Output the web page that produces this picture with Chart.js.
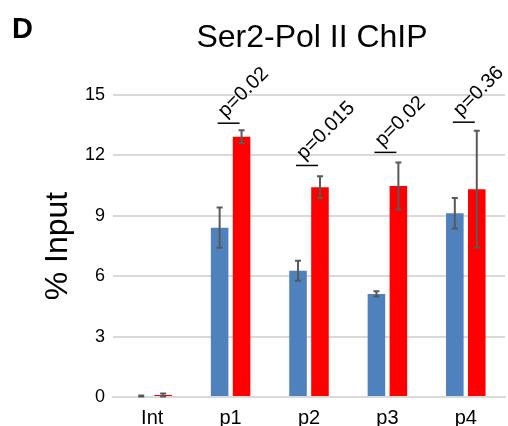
<!DOCTYPE html>
<html>
<head>
<meta charset="utf-8">
<script src="https://cdn.jsdelivr.net/npm/chart.js@4.4.1/dist/chart.umd.min.js"></script>
<style>
  html, body { margin: 0; padding: 0; background: #fff; }
  #wrap { width: 508px; height: 426px; position: relative; }
</style>
</head>
<body>
<div id="wrap"><canvas id="chipChart"></canvas></div>
<script>
// Chart data
const categories = ['Int', 'p1', 'p2', 'p3', 'p4'];
const controlValues = [0.05, 8.41, 6.27, 5.12, 9.13];
const controlErrors = [0.02, 1.0, 0.5, 0.13, 0.76];
const treatedValues = [0.1, 12.93, 10.42, 10.48, 10.32];
const treatedErrors = [0.07, 0.32, 0.55, 1.17, 2.9];
const pValues = [null, 'p=0.02', 'p=0.015', 'p=0.02', 'p=0.36'];
const bracketLevels = [null, 13.6, 11.5, 12.15, 13.65];
const yTicks = [0, 3, 6, 9, 12, 15];

const FONT = "'Liberation Sans', Arial, sans-serif";

// Error bars drawn from the bar elements and the y scale
const errorBarPlugin = {
    id: 'errorBars',
    afterDatasetsDraw: function(chart) {
        const ctx = chart.ctx;
        const yScale = chart.scales.y;
        const errors = [controlErrors, treatedErrors];
        ctx.save();
        ctx.strokeStyle = '#595959';
        ctx.lineWidth = 2;
        chart.data.datasets.forEach(function(ds, di) {
            const meta = chart.getDatasetMeta(di);
            meta.data.forEach(function(bar, i) {
                const v = ds.data[i];
                const e = errors[di][i];
                const yTop = yScale.getPixelForValue(v + e);
                const yBot = yScale.getPixelForValue(Math.max(v - e, 0));
                ctx.beginPath();
                ctx.moveTo(bar.x, yTop);
                ctx.lineTo(bar.x, yBot);
                ctx.moveTo(bar.x - 3, yTop);
                ctx.lineTo(bar.x + 3, yTop);
                ctx.moveTo(bar.x - 3, yBot);
                ctx.lineTo(bar.x + 3, yBot);
                ctx.stroke();
            });
        });
        ctx.restore();
    }
};

// p-value brackets and rotated labels
const pValuePlugin = {
    id: 'pValues',
    afterDatasetsDraw: function(chart) {
        const ctx = chart.ctx;
        const yScale = chart.scales.y;
        const blueMeta = chart.getDatasetMeta(0);
        const redMeta = chart.getDatasetMeta(1);
        ctx.save();
        pValues.forEach(function(label, i) {
            if (!label) return;
            const x1 = blueMeta.data[i].x - 2;
            const x2 = redMeta.data[i].x - 2;
            const y = yScale.getPixelForValue(bracketLevels[i]);
            ctx.strokeStyle = '#000';
            ctx.lineWidth = 1.5;
            ctx.beginPath();
            ctx.moveTo(x1, y);
            ctx.lineTo(x2, y);
            ctx.stroke();

            ctx.save();
            ctx.translate(x1 + 8, y - 5);
            ctx.rotate(-Math.PI / 4);
            ctx.fillStyle = '#000';
            ctx.font = '20px ' + FONT;
            ctx.textAlign = 'left';
            ctx.textBaseline = 'alphabetic';
            ctx.fillText(label, 0, 0);
            ctx.restore();
        });
        ctx.restore();
    }
};

// Panel letter and title
const headerPlugin = {
    id: 'header',
    afterDraw: function(chart) {
        const ctx = chart.ctx;
        ctx.save();
        ctx.fillStyle = '#000';
        ctx.textBaseline = 'alphabetic';
        ctx.font = 'bold 29px ' + FONT;
        ctx.textAlign = 'left';
        ctx.fillText('D', 12, 38);
        ctx.font = '32px ' + FONT;
        ctx.textAlign = 'center';
        ctx.fillText('Ser2-Pol II ChIP', 312, 47);
        ctx.restore();
    }
};

const ctx = document.getElementById('chipChart');
new Chart(ctx, {
    type: 'bar',
    data: {
        labels: categories,
        datasets: [{
            label: 'Control',
            data: controlValues,
            backgroundColor: '#4F81BD',
            borderWidth: 0
        }, {
            label: 'Treated',
            data: treatedValues,
            backgroundColor: '#FF0000',
            borderWidth: 0
        }]
    },
    options: {
        responsive: true,
        maintainAspectRatio: false,
        animation: false,
        datasets: {
            bar: {
                categoryPercentage: 0.56,
                barPercentage: 0.8
            }
        },
        layout: {
            padding: { top: 95, right: 3, left: 0, bottom: 0 }
        },
        plugins: {
            legend: { display: false },
            tooltip: { enabled: false },
            title: { display: false }
        },
        scales: {
            x: {
                grid: { display: false, drawTicks: false },
                border: { display: true, color: '#d9d9d9', width: 2 },
                ticks: {
                    color: '#000',
                    padding: 9,
                    font: { family: FONT, size: 20 }
                },
                afterFit: function(scale) {
                    scale.height = 29;
                }
            },
            y: {
                min: 0,
                max: 15,
                afterBuildTicks: function(scale) {
                    scale.ticks = yTicks.map(function(v) { return { value: v }; });
                },
                grid: { color: '#d9d9d9', lineWidth: 2, drawTicks: false },
                border: { display: false },
                ticks: {
                    color: '#000',
                    padding: 8,
                    font: { family: FONT, size: 18 }
                },
                title: {
                    display: true,
                    text: '% Input',
                    color: '#000',
                    padding: { top: 39, bottom: 0 },
                    font: { family: FONT, size: 32 }
                },
                afterFit: function(scale) {
                    scale.width = 113;
                }
            }
        }
    },
    plugins: [errorBarPlugin, pValuePlugin, headerPlugin]
});
</script>
</body>
</html>
